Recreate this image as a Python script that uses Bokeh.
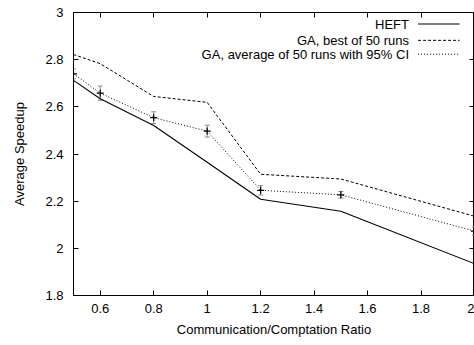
from bokeh.plotting import figure
from bokeh.models import (ColumnDataSource, Whisker, TeeHead, FixedTicker, LinearAxis,
                          CustomJSTickFormatter, CustomLabelingPolicy, Label, Arrow, Range1d)
from bokeh.embed import file_html
from bokeh.resources import INLINE

# ---- data ----
ratio = [0.5, 0.6, 0.8, 1.0, 1.2, 1.5, 2.0]
heft = [2.712, 2.634, 2.521, 2.365, 2.208, 2.157, 1.935]
ga_best = [2.822, 2.783, 2.644, 2.619, 2.314, 2.294, 2.136]
ga_avg = [2.740, 2.658, 2.554, 2.497, 2.246, 2.227, 2.073]
ga_ci = [0.021, 0.030, 0.025, 0.025, 0.020, 0.014, 0.018]
x_ticks = [0.6, 0.8, 1.0, 1.2, 1.4, 1.6, 1.8, 2.0]
y_ticks = [1.8, 2.0, 2.2, 2.4, 2.6, 2.8, 3.0]
series_names = ["HEFT", "GA, best of 50 runs", "GA, average of 50 runs with 95% CI"]

FONT = "Liberation Sans"

p = figure(width=474, height=345, output_backend="svg", toolbar_location=None,
           x_range=Range1d(0.5, 2.0), y_range=Range1d(1.8, 3.0),
           min_border_left=73, min_border_right=0, min_border_top=12, min_border_bottom=50)
p.background_fill_color = "white"
p.border_fill_color = "white"
p.outline_line_color = "black"
p.outline_line_width = 1
p.xgrid.visible = False
p.ygrid.visible = False

fmt = CustomJSTickFormatter(code="return Number(tick.toFixed(2)).toString();")

for ax in [p.xaxis[0], p.yaxis[0]]:
    ax.major_tick_in = 5
    ax.major_tick_out = 0
    ax.minor_tick_line_color = None
    ax.axis_line_color = "black"
    ax.major_label_text_font = FONT
    ax.major_label_text_font_size = "13px"
    ax.major_label_text_color = "black"
    ax.axis_label_text_font = FONT
    ax.axis_label_text_font_size = "13px"
    ax.axis_label_text_font_style = "normal"
    ax.axis_label_text_color = "black"
    ax.formatter = fmt

p.xaxis[0].ticker = FixedTicker(ticks=x_ticks)
p.yaxis[0].ticker = FixedTicker(ticks=y_ticks)
p.xaxis[0].axis_label = "Communication/Comptation Ratio"
p.yaxis[0].axis_label = "Average Speedup"
p.xaxis[0].major_label_standoff = 8
p.xaxis[0].axis_label_standoff = 6
p.yaxis[0].major_label_standoff = 10
p.yaxis[0].axis_label_standoff = 15

no_labels = CustomLabelingPolicy(code="return [];")
blank = CustomJSTickFormatter(code="return '';")
top = LinearAxis(ticker=FixedTicker(ticks=x_ticks), major_tick_in=5, major_tick_out=0,
                 minor_tick_line_color=None, formatter=blank, major_label_policy=no_labels,
                 major_label_standoff=0)
right = LinearAxis(ticker=FixedTicker(ticks=y_ticks), major_tick_in=5, major_tick_out=0,
                   minor_tick_line_color=None, formatter=blank, major_label_policy=no_labels,
                   major_label_standoff=0)
p.add_layout(top, "above")
p.add_layout(right, "right")

src = ColumnDataSource(dict(x=ratio, heft=heft, best=ga_best, avg=ga_avg,
                            lo=[a - c for a, c in zip(ga_avg, ga_ci)],
                            hi=[a + c for a, c in zip(ga_avg, ga_ci)]))

p.line("x", "heft", source=src, line_color="black", line_width=1.1)
p.line("x", "best", source=src, line_color="black", line_width=1, line_dash="3 2")
p.line("x", "avg", source=src, line_color="black", line_width=1, line_dash="1 2")

wh = Whisker(base="x", upper="hi", lower="lo", source=src, line_color="#8a8a8a", line_width=1,
             upper_head=TeeHead(size=5, line_color="#8a8a8a", line_width=1),
             lower_head=TeeHead(size=5, line_color="#8a8a8a", line_width=1))
p.add_layout(wh)
p.scatter("x", "avg", source=src, marker="cross", size=7, line_color="black", line_width=1.2)

# ---- legend (text on the left, sample on the right) ----
leg_styles = [(None, 1.1), ("3 2", 1), ("1 2", 1)]
leg_y = [2.951, 2.882, 2.823]
for name, (dash, lw), yy in zip(series_names, leg_styles, leg_y):
    p.add_layout(Label(x=1.755, y=yy, text=name, text_align="right", text_baseline="middle",
                       text_font=FONT, text_font_size="13px", text_color="black"))
    kw = dict(line_dash=dash) if dash else {}
    p.add_layout(Arrow(x_start=1.789, y_start=yy, x_end=1.944, y_end=yy, start=None, end=None,
                       line_color="black", line_width=lw, **kw))

open("out.html", "w").write(file_html(p, INLINE))
